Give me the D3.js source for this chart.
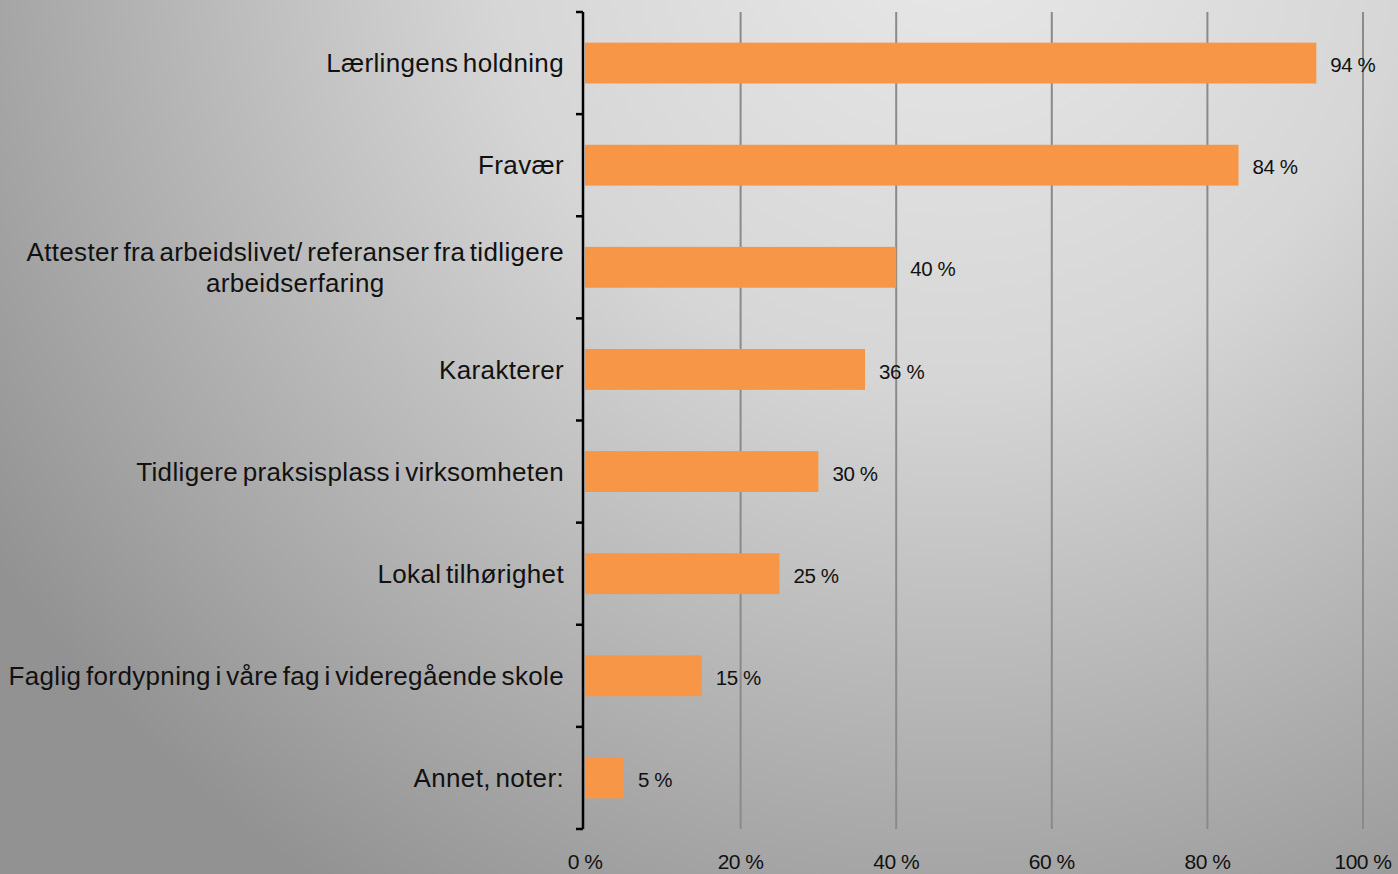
<!DOCTYPE html>
<html>
<head>
<meta charset="utf-8">
<script src="https://cdn.jsdelivr.net/npm/d3@7.9.0/dist/d3.min.js"></script>
<style>
  html, body { margin: 0; padding: 0; overflow: hidden; }
  svg { display: block; font-family: "Liberation Sans", Arial, sans-serif; }
</style>
</head>
<body>
<svg id="chart" width="1398" height="874"></svg>
<script>
const categories = [
  ["Lærlingens holdning"],
  ["Fravær"],
  ["Attester fra arbeidslivet/ referanser fra tidligere", "arbeidserfaring"],
  ["Karakterer"],
  ["Tidligere praksisplass i virksomheten"],
  ["Lokal tilhørighet"],
  ["Faglig fordypning i våre fag i videregående skole"],
  ["Annet, noter:"]
];
const values = [94, 84, 40, 36, 30, 25, 15, 5];
const tickValues = [0, 20, 40, 60, 80, 100];

const width = 1398;
const height = 874;
const margin = { top: 12, bottom: 829, left: 585, right: 1363 };

const svg = d3.select("#chart");

const defs = svg.append("defs");
const grad = defs.append("radialGradient")
  .attr("id", "bg")
  .attr("gradientUnits", "userSpaceOnUse")
  .attr("cx", 950).attr("cy", -80).attr("r", 1150);
grad.append("stop").attr("offset", "0%").attr("stop-color", "#e8e8e8");
grad.append("stop").attr("offset", "40%").attr("stop-color", "#d6d6d6");
grad.append("stop").attr("offset", "100%").attr("stop-color", "#929292");

svg.append("rect").attr("width", width).attr("height", height).attr("fill", "url(#bg)");

const keys = categories.map((d) => d.join(" "));

const x = d3.scaleLinear().domain([0, 100]).range([margin.left, margin.right]);
const y = d3.scaleBand().domain(keys).range([margin.top, margin.bottom]).paddingInner(0.6).paddingOuter(0.3);

// gridlines
svg.append("g")
  .selectAll("line")
  .data(tickValues.filter((d) => d > 0))
  .join("line")
  .attr("x1", (d) => x(d)).attr("x2", (d) => x(d))
  .attr("y1", margin.top).attr("y2", margin.bottom)
  .attr("stroke", "#8a8a8a")
  .attr("stroke-width", 2);

// bars
svg.append("g")
  .selectAll("rect")
  .data(values)
  .join("rect")
  .attr("x", x(0))
  .attr("y", (d, i) => y(keys[i]))
  .attr("width", (d) => x(d) - x(0))
  .attr("height", y.bandwidth())
  .attr("fill", "#f79646");

// value labels
svg.append("g")
  .selectAll("text")
  .data(values)
  .join("text")
  .attr("x", (d) => x(d) + 14)
  .attr("y", (d, i) => y(keys[i]) + y.bandwidth() / 2 + 2)
  .attr("dy", "0.35em")
  .attr("font-size", 20.5)
  .attr("letter-spacing", -0.4)
  .attr("fill", "#111")
  .text((d) => `${d} %`);

// y axis
const yg = svg.append("g").attr("transform", `translate(${margin.left - 2},0)`);
yg.append("line")
  .attr("x1", 0).attr("x2", 0).attr("y1", margin.top).attr("y2", margin.bottom)
  .attr("stroke", "#000").attr("stroke-width", 2.5);
const boundaries = d3.range(keys.length + 1).map((i) => margin.top + i * (margin.bottom - margin.top) / keys.length);
yg.selectAll(".bt")
  .data(boundaries)
  .join("line")
  .attr("class", "bt")
  .attr("x1", -7).attr("x2", 0)
  .attr("y1", (d) => d).attr("y2", (d) => d)
  .attr("stroke", "#000").attr("stroke-width", 2.5);

// category labels
const labels = svg.append("g")
  .selectAll("text")
  .data(categories)
  .join("text")
  .attr("font-size", 26)
  .attr("letter-spacing", 0.35)
  .attr("word-spacing", -3)
  .attr("fill", "#111")
  .attr("text-anchor", "end");

labels.each(function (lines, i) {
  const t = d3.select(this);
  const cy = y(keys[i]) + y.bandwidth() / 2;
  const lh = 31;
  const top = cy - (lines.length - 1) * lh / 2;
  lines.forEach((line, j) => {
    t.append("tspan").attr("x", 564).attr("y", top + j * lh).attr("dy", "0.35em").text(line);
  });
  if (lines.length > 1) {
    const spans = t.selectAll("tspan").nodes();
    const w = spans.map((s) => s.getComputedTextLength());
    const maxW = d3.max(w);
    spans.forEach((s, j) => {
      d3.select(s).attr("x", 564 - (maxW - w[j]) / 2);
    });
  }
});

// x axis labels
svg.append("g")
  .selectAll("text")
  .data(tickValues)
  .join("text")
  .attr("x", (d) => x(d))
  .attr("y", 869)
  .attr("text-anchor", "middle")
  .attr("font-size", 21)
  .attr("letter-spacing", -0.5)
  .attr("fill", "#111")
  .text((d) => `${d} %`);
</script>
</body>
</html>
